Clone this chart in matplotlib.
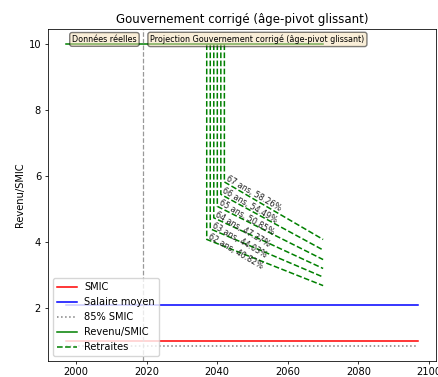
import matplotlib
matplotlib.use("Agg")
import matplotlib.pyplot as plt

# Series
years_span = [1997, 2097]
smic = [1.0, 1.0]
salaire_moyen = [2.1, 2.1]
smic_85 = [0.85, 0.85]

revenu_years = [1997, 2070]
revenu = [10.0, 10.0]

# Pensions by departure age (start year, start level, level in 2070)
ages = [62, 63, 64, 65, 66, 67]
depart_years = [2037, 2038, 2039, 2040, 2041, 2042]
taux = [40.82, 44.03, 47.37, 50.85, 54.49, 58.26]
niveau_2070 = [2.68, 2.94, 3.20, 3.47, 3.76, 4.08]
fin_projection = 2070
annee_reference = 2019

plt.rcParams.update({
    "font.size": 7.1,
    "axes.linewidth": 0.57,
    "xtick.major.size": 2.5,
    "ytick.major.size": 2.5,
    "xtick.major.width": 0.57,
    "ytick.major.width": 0.57,
    "xtick.major.pad": 2.0,
    "ytick.major.pad": 2.5,
    "axes.titlepad": 4.3,
    "axes.labelpad": 2.8,
})

fig = plt.figure(figsize=(4.38, 3.77), dpi=100)
ax = fig.add_axes([48 / 438, 1 - 361 / 377, 388 / 438, 331.7 / 377])

lw = 1.1
ax.plot(years_span, smic, color="red", lw=lw, label="SMIC")
ax.plot(years_span, salaire_moyen, color="blue", lw=lw, label="Salaire moyen")
ax.plot(years_span, smic_85, color="gray", ls=":", lw=lw, label="85% SMIC")
ax.plot(revenu_years, revenu, color="green", lw=lw, label="Revenu/SMIC")

for i, age in enumerate(ages):
    start_level = revenu[0] * taux[i] / 100
    x = [depart_years[i], depart_years[i], fin_projection]
    y = [revenu[0], start_level, niveau_2070[i]]
    ax.plot(x, y, color="green", ls="--", lw=lw,
            label="Retraites" if i == 0 else None)
    ax.text(depart_years[i], start_level, f"{age} ans, {taux[i]:.2f}%",
            rotation=-30, rotation_mode="anchor", ha="left", va="bottom",
            fontsize=5.8, color="#222222")

ax.axvline(annee_reference, color="gray", ls="--", lw=0.9, alpha=0.8)

box = dict(boxstyle="round", facecolor="wheat", alpha=0.5)
ax.text(2008, 10.15, "Données réelles", ha="center", va="center",
        fontsize=5.75, bbox=box)
ax.text(2021, 10.15, "Projection Gouvernement corrigé (âge-pivot glissant)",
        ha="left", va="center", fontsize=5.75, bbox=box)

ax.set_title("Gouvernement corrigé (âge-pivot glissant)", fontsize=8.5)
ax.set_ylabel("Revenu/SMIC")
ax.legend(loc="lower left", fontsize=7.1)

fig.savefig("out.png", dpi=100)
